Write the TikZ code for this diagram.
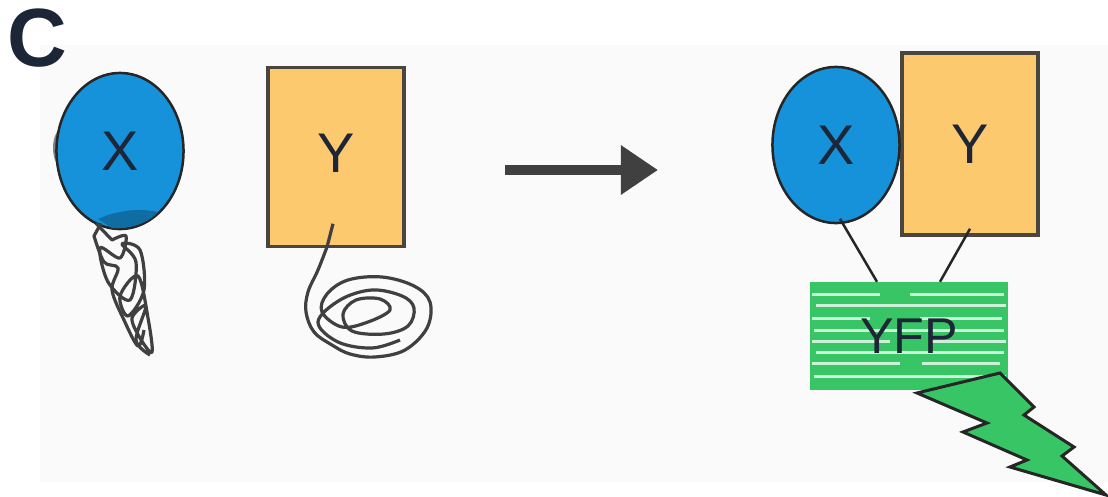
\documentclass[tikz,border=0pt]{standalone}
\usepackage{fontspec}
\setmainfont{Liberation Sans}
\usetikzlibrary{shapes.geometric,arrows.meta}

\definecolor{proteinaX}{HTML}{1592DA}
\definecolor{proteinaY}{HTML}{FCC96E}
\definecolor{verdeYFP}{HTML}{38C565}
\definecolor{testo}{HTML}{1D2636}
\definecolor{bordo}{HTML}{4B4540}

\tikzset{
    xbox/.style={ellipse, draw=black!85, line width=0.025cm, fill=proteinaX, inner sep=0pt,
        minimum width=1.27cm, minimum height=1.56cm, text=testo, font=\fontsize{15.9}{16}\selectfont},
    ybox/.style={rectangle, draw=bordo, line width=0.035cm, fill=proteinaY, inner sep=0pt,
        minimum width=1.36cm, text=testo, font=\fontsize{15.9}{16}\selectfont},
    yfpbox/.style={rectangle, fill=verdeYFP, inner sep=0pt, minimum width=1.98cm, minimum height=1.07cm,
        text=testo, font=\fontsize{14.3}{15}\selectfont,
        path picture={
            % righe bianche della proteina fluorescente
            \foreach \dy/\xa/\xb in {12/2/70, 12/100/194, 23/6/196, 36/2/60, 36/110/192, 48/4/194,
                                     59/2/80, 59/120/196, 70/6/194, 81/2/90, 81/112/190, 94/4/196} {
                \draw[white, opacity=0.75, line width=0.03cm]
                    ([shift={(\xa,\dy)}]path picture bounding box.north west)
                    -- ([shift={(\xb,\dy)}]path picture bounding box.north west);
            }
        }},
    coil/.style={draw=black!75, line width=0.032cm, line join=round},
    tether/.style={draw=black!85, line width=0.025cm},
}

\begin{document}
\begin{tikzpicture}[x=0.01cm, y=-0.01cm]
    % Area del disegno
    \useasboundingbox (0,0) rectangle (1108,497);
    \fill[black!2] (40,45) rectangle (1108,482);

    % Lettera del pannello
    \node[anchor=base, text=testo, font=\fontsize{23.5}{24}\selectfont\bfseries] (pannello) at (37,67) {C};

    % Proteine separate, con le catene srotolate
    \fill[black!50] (62,148) ellipse (9 and 19);
    \node[xbox] (x1) at (120,151) {X};
    \fill[proteinaX!75!black] (98,219) .. controls (118,210) and (140,208) .. (158,212)
        .. controls (150,222) and (132,229) .. (112,228) -- cycle;
    \node[ybox, minimum height=1.79cm] (y1) at (336,157) {\raisebox{0.07cm}{Y}};

    \coordinate (c1) at ([xshift=-0.24cm, yshift=0.07cm]x1.south);
    \draw[coil] (c1) -- plot[smooth, tension=0.55] coordinates {(112,240) (126,236) (120,258) (100,248)
        (108,282) (130,300) (136,262) (122,244) (140,250) (144,290) (128,316) (120,296) (138,276)
        (148,318) (152,352) (140,338) (132,318) (146,306) (136,340) (150,355)};
    \draw[coil] ([xshift=0.05cm]c1) -- plot[smooth, tension=0.55] coordinates {(94,236) (104,262)
        (118,268) (112,290) (124,320) (138,346) (144,330)};

    \coordinate (c2) at ([xshift=-0.03cm, yshift=0.245cm]y1.south);
    \draw[coil] (c2) -- plot[smooth, tension=0.6] coordinates {(327,247) (318,270) (308,292) (306,312)
        (314,332) (332,345) (350,354) (375,357) (405,350) (427,328) (430,302) (414,286) (382,277)
        (348,280) (327,294) (322,312) (342,327) (368,322) (390,310) (380,299) (356,300) (343,314)
        (352,331) (384,334) (408,326) (414,308) (402,296) (372,290) (340,300) (318,322) (338,342)
        (372,348) (400,340)};

    % Freccia
    \coordinate (inizio) at (505,170);
    \coordinate (fine) at (658,170);
    \draw[-{Triangle[length=0.37cm, width=0.47cm]}, line width=0.1cm, draw=black!75] (inizio) -- (fine);

    % Complesso con la YFP ricostituita
    \node[ybox, minimum height=1.82cm] (y2) at (970,144) {\raisebox{-0.05cm}{Y}};
    \node[xbox] (x2) at (836,145) {X};
    \node[yfpbox] (yfp) at (909,336) {YFP};
    \draw[tether] ([xshift=0.04cm, yshift=0.055cm]x2.south) -- ([xshift=-0.32cm]yfp.north);
    \draw[tether] ([yshift=0.08cm]y2.south) -- ([xshift=0.31cm]yfp.north);

    % Fulmine
    \filldraw[fill=verdeYFP, draw=black!85, line width=0.03cm, line join=miter]
        (917,393) -- (1000,373) -- (1034,407) -- (1024,415) -- (1074,447) -- (1062,456)
        -- (1106,495) -- (1010,467) -- (1027,460) -- (963,432) -- (987,423) -- cycle;
\end{tikzpicture}
\end{document}
